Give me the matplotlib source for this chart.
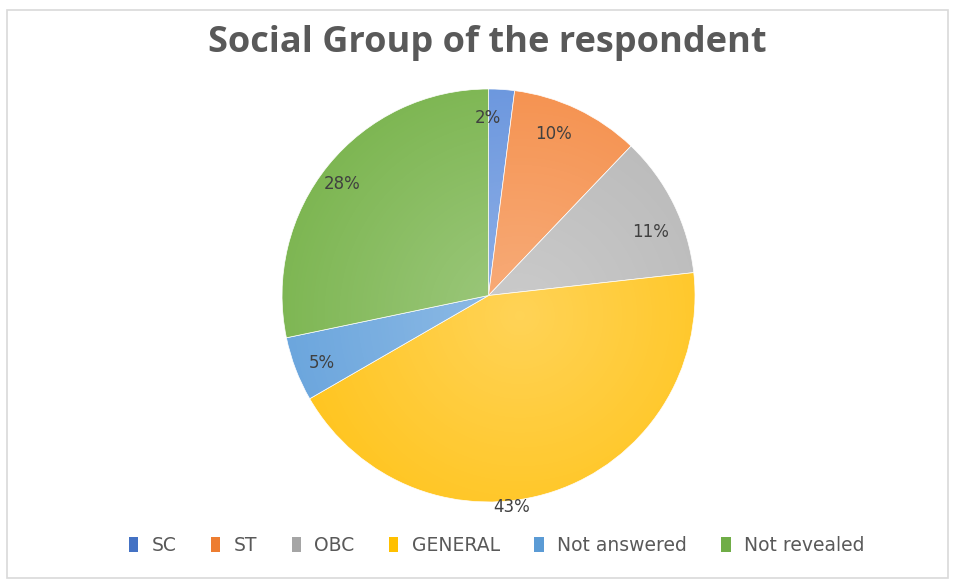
import matplotlib.pyplot as plt
import numpy as np
from matplotlib.patches import Circle, Rectangle, Patch

groups = ['SC', 'ST', 'OBC', 'GENERAL', 'Not answered', 'Not revealed']
shares = [2, 10, 11, 43, 5, 28]
labels = ['2%', '10%', '11%', '43%', '5%', '28%']
colors = ['#4472C4', '#ED7D31', '#A5A5A5', '#FFC000', '#5B9BD5', '#70AD47']
fills = ['#6A96DE', '#F5914E', '#B9B9B9', '#FFC41C', '#6AA5DD', '#7DB652']

# label placement (radius, angle shift in degrees) the way Excel's best fit puts them
lab_r = [0.86, 0.84, 0.84, 1.03, 0.87, 0.89]
lab_shift = [4, 3.6, -5, -12, 1, 1.8]

plt.rcParams['font.family'] = ['DejaVu Sans']

fig = plt.figure(figsize=(9.55, 5.79), dpi=100)
fig.patches.append(Rectangle((7 / 955, 1 / 579), 941 / 955, 568 / 579,
                             transform=fig.transFigure, fill=False,
                             edgecolor='#D9D9D9', linewidth=1.2))

ax = fig.add_axes([0.2953, 0.133, 0.4325, 0.7133])
wedges, _ = ax.pie(shares, colors=fills, startangle=90, counterclock=False,
                   radius=1.0, wedgeprops=dict(edgecolor='white', linewidth=0.5))

# soft radial shading over the pie, lighter towards the middle
n = 400
xx, yy = np.meshgrid(np.linspace(-1, 1, n), np.linspace(-1, 1, n))
rr = np.hypot(xx - 0.15, yy + 0.1)
shade = np.zeros((n, n, 4))
shade[..., :3] = 1.0
shade[..., 3] = np.clip(0.26 * (1 - rr / 1.2), 0, 0.26)
im = ax.imshow(shade, extent=(-1, 1, -1, 1), origin='lower', zorder=3,
               interpolation='bilinear')
im.set_clip_path(Circle((0, 0), 1.0, transform=ax.transData))

total = sum(shares)
start = 90.0
for w, lab, r, d in zip(shares, labels, lab_r, lab_shift):
    sweep = 360.0 * w / total
    mid = np.deg2rad(start - sweep / 2 + d)
    ax.text(r * np.cos(mid), r * np.sin(mid), lab, ha='center', va='center',
            fontsize=12, color='#404040', zorder=4)
    start -= sweep

ax.set_xlim(-1, 1)
ax.set_ylim(-1, 1)
ax.set_aspect('equal')
ax.axis('off')

fig.text(0.51, 0.926, 'Social Group of the respondent', ha='center', va='center',
         fontsize=26, fontweight='bold', color='#595959', family='Open Sans')

handles = [Patch(facecolor=c, edgecolor='none') for c in colors]
fig.legend(handles, groups, loc='center', bbox_to_anchor=(0.52, 0.058), ncol=6,
           frameon=False, fontsize=13.5, labelcolor='#595959',
           handlelength=0.5, handleheight=0.8, handletextpad=0.7, columnspacing=1.85)

fig.savefig('out.png', dpi=100, facecolor='white')
